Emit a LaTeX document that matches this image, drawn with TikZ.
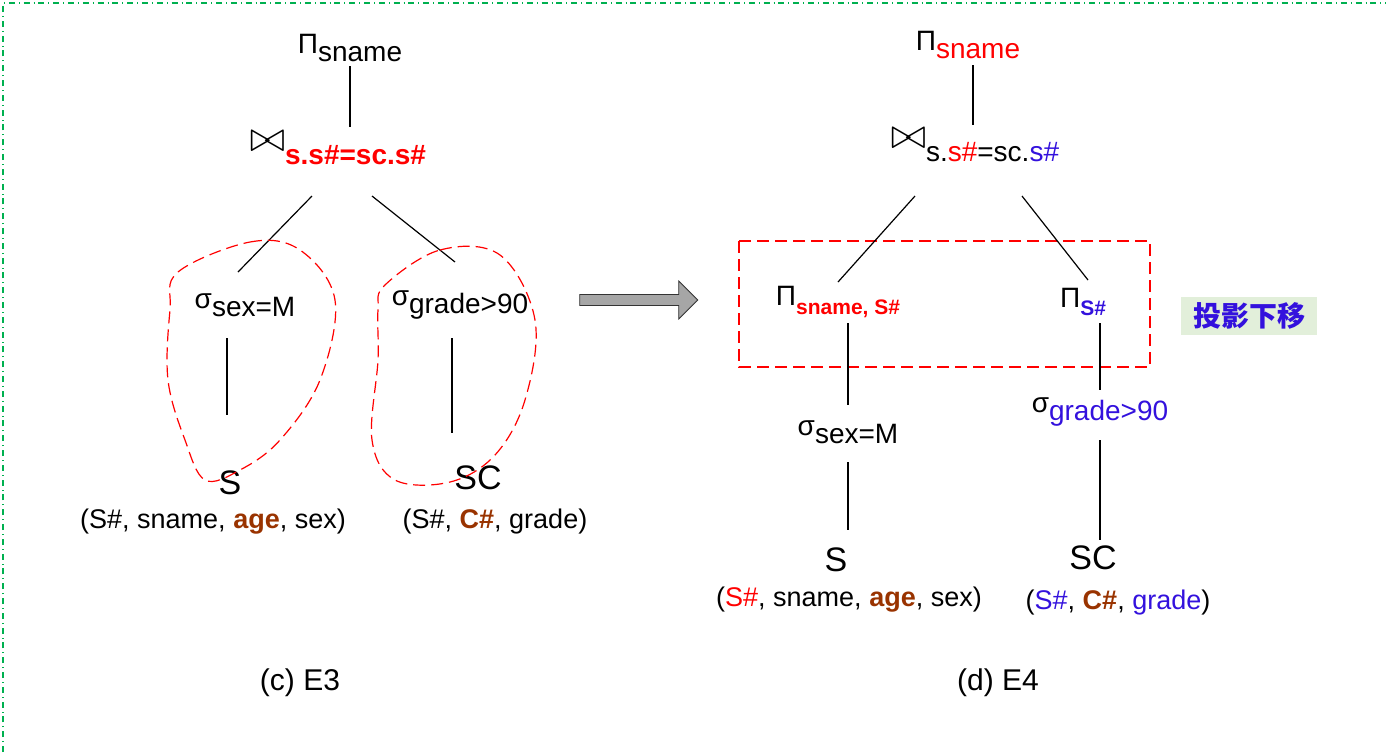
\documentclass[tikz,border=0pt]{standalone}
\usepackage{fontspec}
\setmainfont{Liberation Sans}
\newfontfamily\cjk{Noto Sans CJK SC}
\usetikzlibrary{shapes.arrows}
\definecolor{hired}{HTML}{FF0000}
\definecolor{brownish}{HTML}{993300}
\definecolor{hiblue}{HTML}{3311DD}
\definecolor{tagbg}{HTML}{E2EFDA}
\definecolor{frame}{HTML}{00B050}
\newcommand{\sub}[1]{\raisebox{-0.55ex}{#1}}
\newcommand{\joinop}{\raisebox{0.3ex}{\scalebox{1.5}{$\bowtie$}}}
\tikzset{
  op/.style={inner sep=2pt, font=\fontsize{14}{16}\selectfont},
  rel/.style={inner sep=1pt, font=\fontsize{17}{19}\selectfont},
  attr/.style={inner sep=1pt, font=\fontsize{13.5}{16}\selectfont},
  edge/.style={draw=black, line width=0.6pt},
  blob/.style={draw=hired, dash pattern=on 6pt off 3pt, line width=0.6pt},
}
\begin{document}
\begin{tikzpicture}[x=0.5pt, y=-0.5pt]
        \useasboundingbox (0,0) rectangle (1386,752);
        \draw[frame, dash dot, line width=0.6pt] (3,752) -- (3,3) -- (1386,3);

        % Left tree (c) E3
        \node[op] (lp) at (350,48) {Π\sub{sname}};
        \node[op] (lj) at (338,148) {\joinop\sub{\textcolor{hired}{\bfseries s.s\#=sc.s\#}}};
        \node[op] (ls1) at (245,305) {σ\sub{sex=M}};
        \node[op] (ls2) at (460,305) {σ\sub{grade>90}};
        \node[rel] (lS) at (230,483) {S};
        \node[rel] (lSC) at (478,478) {SC};
        \node[attr] (lSa) at (213,522) {(S\#, sname, \textcolor{brownish}{\bfseries age}, sex)};
        \node[attr] (lSCa) at (495,522) {(S\#, \textcolor{brownish}{\bfseries C\#}, grade)};
        \node[attr, font=\fontsize{15}{17}\selectfont] (lcap) at (300,683) {(c) E3};

        \draw[edge] (lp.south) -- (lp.south |- lj.north);
        \draw[edge] (312,196) -- (238,272);
        \draw[edge] (372,196) -- (455,262);
        \draw[edge] (227,338) -- (227,415);
        \draw[edge] (452,338) -- (452,433);

        \draw[blob] plot[smooth cycle, tension=0.6] coordinates {
          (178,272) (250,242) (300,250) (335,300) (320,380) (280,440)
          (240,470) (205,480) (185,440) (168,380) (170,310)};
        \draw[blob] plot[smooth cycle, tension=0.6] coordinates {
          (385,285) (440,250) (500,255) (535,320) (525,400) (495,455)
          (450,482) (395,480) (372,440) (378,360) (378,310)};

        % Arrow
        \node[single arrow, draw=black!80, fill=black!35, minimum height=59pt,
              minimum width=19pt, single arrow head extend=3pt,
              single arrow head indent=0pt, inner sep=1pt] (arr) at (636,300) {};

        % Right tree (d) E4
        \node[op] (rp) at (968,45) {Π\sub{\textcolor{hired}{sname}}};
        \node[op] (rj) at (975,145) {\joinop\sub{s.\textcolor{hired}{s\#}=sc.\textcolor{hiblue}{s\#}}};
        \node[op] (rp1) at (838,302) {Π\sub{\textcolor{hired}{\bfseries\fontsize{10.5}{12}\selectfont sname, S\#}}};
        \node[op] (rp2) at (1083,302) {Π\sub{\textcolor{hiblue}{\bfseries\fontsize{10.5}{12}\selectfont S\#}}};
        \node[op] (rs1) at (848,432) {σ\sub{sex=M}};
        \node[op] (rs2) at (1100,412) {σ\sub{\textcolor{hiblue}{grade>90}}};
        \node[rel] (rS) at (836,560) {S};
        \node[rel] (rSC) at (1093,558) {SC};
        \node[attr] (rSa) at (849,600) {(\textcolor{hired}{S\#}, sname, \textcolor{brownish}{\bfseries age}, sex)};
        \node[attr] (rSCa) at (1118,603) {(\textcolor{hiblue}{S\#}, \textcolor{brownish}{\bfseries C\#}, \textcolor{hiblue}{grade})};
        \node[attr, font=\fontsize{15}{17}\selectfont] (rcap) at (998,683) {(d) E4};
        \node[fill=tagbg, text=hiblue, inner xsep=6pt, inner ysep=3pt,
              font=\cjk\bfseries\fontsize{14}{16}\selectfont] (tag) at (1249,316) {投影下移};

        \draw[blob] (739,241) rectangle (1150,367);
        \draw[edge] (973,65) -- (973,125);
        \draw[edge] (915,196) -- (838,282);
        \draw[edge] (1022,196) -- (1088,280);
        \draw[edge] (848,323) -- (848,405);
        \draw[edge] (848,462) -- (848,530);
        \draw[edge] (1100,323) -- (1100,390);
        \draw[edge] (1100,440) -- (1100,540);
\end{tikzpicture}
\end{document}
